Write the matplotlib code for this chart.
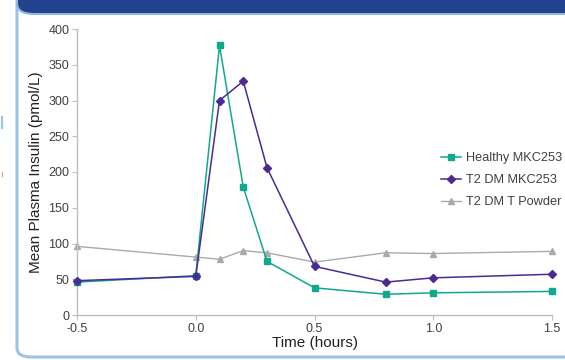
import matplotlib
matplotlib.use("Agg")
import matplotlib.pyplot as plt
from matplotlib.patches import FancyBboxPatch
from matplotlib.lines import Line2D

plt.rcParams['font.family'] = ['Liberation Sans', 'DejaVu Sans']

time_h = [-0.5, 0.0, 0.1, 0.2, 0.3, 0.5, 0.8, 1.0, 1.5]
healthy_mkc253 = [46, 55, 377, 179, 75, 38, 29, 31, 33]
t2dm_mkc253 = [48, 54, 300, 327, 206, 68, 46, 52, 57]
t2dm_t_powder = [96, 81, 78, 90, 87, 74, 87, 86, 89]
series_labels = ["Healthy MKC253", "T2 DM MKC253", "T2 DM T Powder"]
x_ticks = [-0.5, 0.0, 0.5, 1.0, 1.5]
y_ticks = [0, 50, 100, 150, 200, 250, 300, 350, 400]

W, H = 565, 360
fig = plt.figure(figsize=(W / 100, H / 100), dpi=100)

def px(x, y):
    return x / W, 1 - y / H

panel = FancyBboxPatch(px(17, 357), (620 - 17) / W, (357 + 30) / H,
                       boxstyle="round,pad=0,rounding_size=0.025",
                       transform=fig.transFigure, facecolor='none',
                       edgecolor='#9dc3e6', linewidth=2.2, clip_on=False, zorder=-1)
fig.patches.append(panel)

header = FancyBboxPatch(px(17, 14), (620 - 17) / W, (14 + 30) / H,
                        boxstyle="round,pad=0,rounding_size=0.03",
                        transform=fig.transFigure, facecolor='#22428d',
                        edgecolor='#8fb8e3', linewidth=1.5, clip_on=False, zorder=-1)
fig.patches.append(header)

fig.add_artist(Line2D([2 / W, 2 / W], [1 - 117 / H, 1 - 128 / H], color='#9dc3e6', lw=1.5))
fig.add_artist(Line2D([2 / W, 2 / W], [1 - 172 / H, 1 - 176 / H], color='#bbbbbb', lw=1))

ax = fig.add_axes([77 / W, 1 - 315 / H, (552 - 77) / W, (315 - 29) / H])
ax.set_facecolor('none')

teal = '#12a88f'
purple = '#4b2b91'
gray = '#aaaaaa'

ax.plot(time_h, t2dm_t_powder, color=gray, marker='^', markersize=5, lw=1.0,
        label=series_labels[2], zorder=2, clip_on=False)
ax.plot(time_h, healthy_mkc253, color=teal, marker='s', markersize=4.8, lw=1.1,
        label=series_labels[0], zorder=3, clip_on=False)
ax.plot(time_h, t2dm_mkc253, color=purple, marker='D', markersize=4.3, lw=1.1,
        label=series_labels[1], zorder=4, clip_on=False)

ax.set_xlim(-0.5, 1.5)
ax.set_ylim(0, 400)
ax.set_xticks(x_ticks)
ax.set_xticklabels([f"{v:.1f}" for v in x_ticks])
ax.set_yticks(y_ticks)
for s in ['top', 'right']:
    ax.spines[s].set_visible(False)
for s in ['left', 'bottom']:
    ax.spines[s].set_color('#bfbfbf')
    ax.spines[s].set_linewidth(1.0)
ax.tick_params(axis='both', colors='#bfbfbf', labelcolor='#404040', labelsize=9,
               length=3.5, width=0.8, direction='out', pad=2)
ax.set_xlabel("Time (hours)", fontsize=11, color='#222222', labelpad=1)
ax.set_ylabel("Mean Plasma Insulin (pmol/L)", fontsize=11, color='#222222', labelpad=4)

h, l = ax.get_legend_handles_labels()
order = [1, 2, 0]
leg = ax.legend([h[i] for i in order], [l[i] for i in order], loc='upper left',
                bbox_to_anchor=(441 / W, 1 - 152 / H), bbox_transform=fig.transFigure,
                frameon=False, fontsize=9.2, handlelength=1.6, handletextpad=0.35,
                labelspacing=0.8, borderaxespad=0, borderpad=0)
for t in leg.get_texts():
    t.set_color('#404040')
leg.set_clip_on(False)

fig.savefig("out.png", dpi=100)
